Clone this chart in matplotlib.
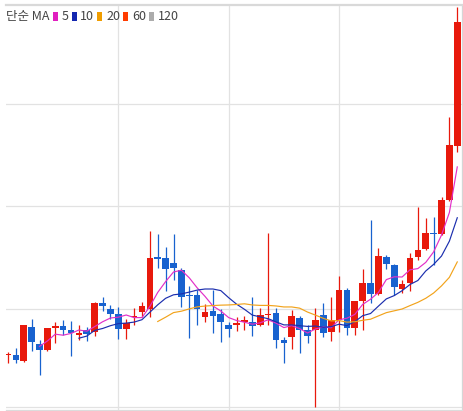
import matplotlib
matplotlib.use("Agg")
import matplotlib.pyplot as plt
import numpy as np
import pandas as pd
from matplotlib.patches import Rectangle

plt.rcParams['font.family'] = ['Noto Sans CJK KR', 'DejaVu Sans']

# daily candles (price units)
opens  = [55, 55, 49, 83, 66, 60, 82, 84, 80, 75, 80, 78, 107, 101, 96, 81, 93, 98, 101, 153,
          152, 147, 140, 115, 115, 93, 99, 96, 85, 85.5, 88.5, 88, 85, 95, 97, 70, 73, 92, 80, 80,
          95, 78, 90, 120, 82, 109, 127, 116, 153, 145, 121, 127, 153, 161, 176.5, 176, 210, 264]
closes = [55, 50, 85, 68, 60, 82, 84, 80, 77, 77, 76, 107, 104, 96, 81, 87, 94, 104, 152, 151,
          141, 142, 113, 114, 101, 98, 94, 88, 81, 86.5, 89.5, 84, 95, 96, 70, 67, 94, 80, 74, 90,
          77, 90, 120, 82, 109, 127, 116, 154, 146, 123, 126, 152, 160, 177, 175.5, 210, 265, 388]
highs  = [58, 62, 85, 91, 70, 82, 88, 90, 89, 85, 83, 108, 113, 105, 103, 91, 102, 108, 179, 176,
          163, 176, 142, 124, 120, 106, 120, 101, 88, 93, 94, 113, 102, 177, 102, 73, 100, 94, 85, 102,
          107, 113, 134, 122, 109, 141, 190, 162, 155, 146, 130, 157, 203, 192, 193, 213, 293, 403]
lows   = [47, 47, 48, 59, 35, 59, 67, 75, 54, 70, 69, 74, 99, 91, 71, 71, 85, 93, 93, 142,
          119, 130, 103, 72, 85, 88, 77, 68, 73, 79, 80, 74, 84, 85, 62, 47, 61, 57, 67, 3,
          73, 69, 78, 75, 75, 80, 107, 115, 141, 115, 117, 119, 150, 160, 145, 175, 209, 258]

ma_periods = [5, 10, 20, 60, 120]
ma_labels  = ['5', '10', '20', '60', '120']
ma_colors  = ['#e22fc8', '#1b2eae', '#f2a31b', '#ff3d00', '#aaaaaa']
legend_colors = ['#e01fbf', '#1427b0', '#f09d00', '#ff3c00', '#acacac']

UP   = '#e8190c'
DOWN = '#1862cf'

W, H = 463, 411
fig = plt.figure(figsize=(W / 100, H / 100), dpi=100)
ax = fig.add_axes([6 / W, 1 - 410 / H, 456 / W, 405 / H])

n = len(closes)
idx = np.arange(n)
o = np.array(opens, float)
c = np.array(closes, float)
hi = np.array(highs, float)
lo = np.array(lows, float)
up = c >= o
cols = np.where(up, UP, DOWN)

# wicks
ax.vlines(idx, lo, hi, colors=cols, linewidth=0.9, zorder=2)
# bodies
bottom = np.minimum(o, c)
height = np.maximum(np.abs(c - o), 1.3)
ax.bar(idx, height, bottom=bottom, width=0.85, color=cols, edgecolor='none', zorder=3)

# simple moving averages
close_s = pd.Series(c)
for per, col in zip(ma_periods, ma_colors):
  ma = close_s.rolling(per).mean()
  if ma.notna().any():
    ax.plot(idx, ma, color=col, linewidth=0.85, zorder=4)

ax.set_xlim(-0.25, 57.6)
ax.set_ylim(0, 405)

# grid
for gy in [3, 101, 203.5, 306]:
  ax.axhline(gy, color='#e2e2e2', linewidth=0.9, zorder=0)
for gx in [14, 28, 42]:
  ax.axvline(gx, color='#e2e2e2', linewidth=0.9, zorder=0)

ax.set_xticks([])
ax.set_yticks([])
ax.spines['left'].set_visible(False)
ax.spines['top'].set_color('#d9d9d9')
ax.spines['top'].set_linewidth(1.6)
ax.spines['right'].set_color('#d6d6d6')
ax.spines['right'].set_linewidth(0.9)
ax.spines['bottom'].set_color('#dcdcdc')
ax.spines['bottom'].set_linewidth(0.9)

# legend along the top
def fx(px):
  return px / W

def fy(py):
  return 1 - py / H

fig.text(fx(6), fy(16.5), '단순 MA', fontsize=9, color='#444444', ha='left', va='center')
rect_x = [53, 72, 97, 123, 149]
text_x = [62, 80, 106, 132, 158]
for rx, tx, col, lab in zip(rect_x, text_x, legend_colors, ma_labels):
  fig.patches.append(Rectangle((fx(rx), fy(21)), 5 / W, 9 / H, transform=fig.transFigure,
                               facecolor=col, edgecolor='none'))
  fig.text(fx(tx), fy(16.5), lab, fontsize=9, color='#444444', ha='left', va='center')

fig.savefig('out.png', dpi=100)
